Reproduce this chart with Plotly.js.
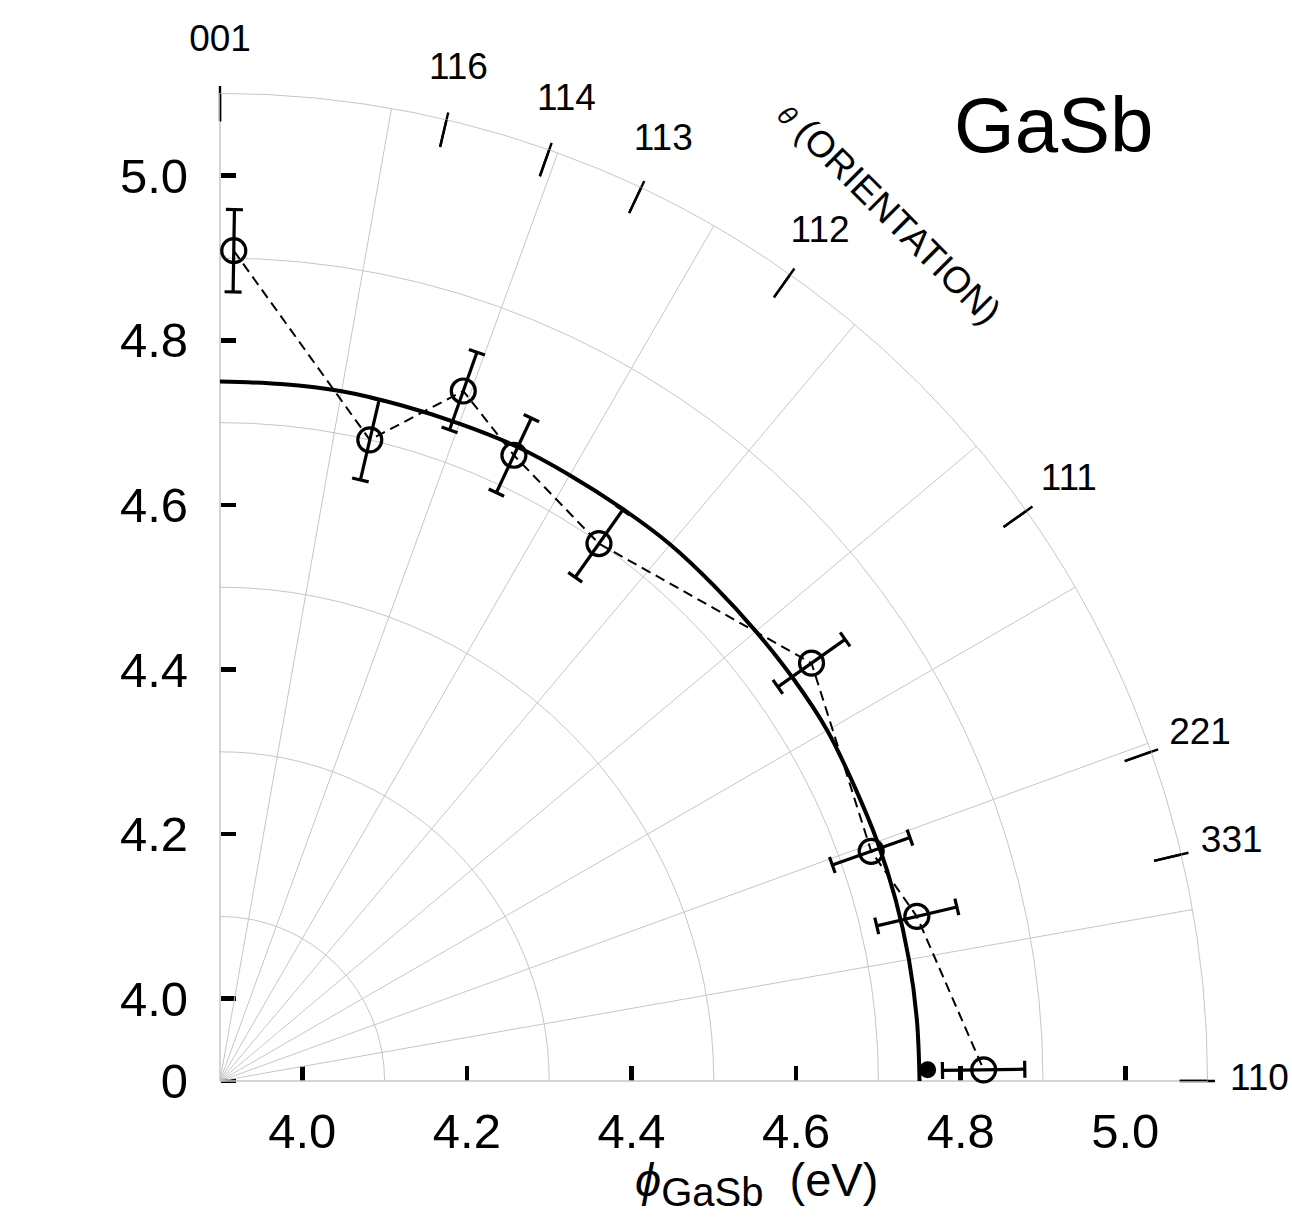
<!DOCTYPE html>
<html>
<head>
<meta charset="utf-8">
<script src="https://cdn.plot.ly/plotly-3.0.1.min.js"></script>
<style>html,body{margin:0;padding:0;background:#fff;}</style>
</head>
<body>
<div id="chart" style="width:1292px;height:1226px;"></div>
<script>
// ---------------- data ----------------
const orientLabels = ['001', '116', '114', '113', '112', '111', '221', '331', '110'];
const orientAngles = [0, 13.26, 19.47, 25.24, 35.26, 54.74, 70.53, 76.74, 90];

const measTheta = [0.95, 13.15, 19.42, 25.16, 35.19, 54.76, 70.57, 76.71, 89.16];
const measPhi   = [4.909, 4.700, 4.789, 4.740, 4.699, 4.780, 4.739, 4.770, 4.828];
const measErr   = [0.05, 0.05, 0.05, 0.05, 0.05, 0.05, 0.05, 0.05, 0.05];

const fitTheta = [0, 5, 10, 15, 20, 25, 30, 35, 40, 45, 50, 55, 60, 65, 70, 75, 80, 85, 90];
const fitPhi   = [4.750, 4.750, 4.751, 4.750, 4.750, 4.751, 4.750, 4.750, 4.751, 4.750, 4.750, 4.751, 4.752, 4.750, 4.750, 4.750, 4.750, 4.750, 4.750];

const calcTheta = [89.09];
const calcPhi   = [4.760];

const xTickVals = [4.0, 4.2, 4.4, 4.6, 4.8, 5.0];
const xTickText = ['4.0', '4.2', '4.4', '4.6', '4.8', '5.0'];
const yTickVals = [3.9, 4.0, 4.2, 4.4, 4.6, 4.8, 5.0];
const yTickText = ['0', '4.0', '4.2', '4.4', '4.6', '4.8', '5.0'];
const rGridVals = [4.1, 4.3, 4.5, 4.7, 4.9, 5.1];

// ---------------- geometry / style constants ----------------
const W = 1292, H = 1226;
const ORIGIN_X = 220, ORIGIN_Y = 1081;      // pixel position of the pole
const PAD = 20;                              // cartesian area extends a bit beyond the pole
const ML = ORIGIN_X - PAD, MB = H - ORIGIN_Y - PAD, MR = 0, MT = 0;
const PW = W - ML - MR, PH = H - MT - MB;
const PX_PER_EV = 823;
const R0 = 3.9, R1 = 5.1;
const RADPX = (R1 - R0) * PX_PER_EV;
const TICK_IN = 5.066, TICK_OUT = 5.109, LABEL_R = 5.163;
const CAP_HALF_PX = 8.5;
const FONT = '"Liberation Sans", Arial, Helvetica, sans-serif';
const GRID = '#c6c6c6';
const x0f = PAD / PW, y0f = PAD / PH;
const pyToPaper = py => (H - MB - py) / PH;

function toXY(r, thDeg) {
  const t = thDeg * Math.PI / 180;
  return [R0 + (r - R0) * Math.sin(t), R0 + (r - R0) * Math.cos(t)];
}

// orientation tick marks and labels (cartesian overlay, same px scale)
const tkX = [], tkY = [], tkR = [], tkT = [];
orientAngles.forEach(a => {
  const p1 = toXY(TICK_IN, a), p2 = toXY(TICK_OUT, a);
  tkX.push(p1[0], p2[0], null); tkY.push(p1[1], p2[1], null);
  tkR.push(TICK_IN, TICK_OUT, null); tkT.push(a, a, null);
});
const lbX = [], lbY = [];
orientAngles.forEach(a => { const p = toXY(LABEL_R, a); lbX.push(p[0]); lbY.push(p[1]); });

// radial error bars with caps
const ebR = [], ebT = [];
measPhi.forEach((r, i) => {
  const th = measTheta[i], e = measErr[i];
  ebR.push(r - e, r + e, null); ebT.push(th, th, null);
  [r - e, r + e].forEach(rr => {
    const d = CAP_HALF_PX / ((rr - R0) * PX_PER_EV) * 180 / Math.PI;
    ebR.push(rr, rr, null); ebT.push(th - d, th + d, null);
  });
});

const traces = [
  { type: 'scatter', x: tkX, y: tkY, mode: 'lines', line: { color: '#000', width: 2.4 },
    hoverinfo: 'skip', showlegend: false, cliponaxis: false },
  { type: 'scatter', x: lbX, y: lbY, mode: 'text', text: orientLabels, textposition: 'middle center',
    textfont: { family: FONT, size: 37, color: '#000' }, hoverinfo: 'skip', showlegend: false, cliponaxis: false },
  { type: 'scatterpolar', r: tkR, theta: tkT, mode: 'lines', connectgaps: false,
    line: { color: '#000', width: 2.4 }, hoverinfo: 'skip', showlegend: false },
  { type: 'scatterpolar', r: fitPhi, theta: fitTheta, mode: 'lines',
    line: { color: '#000', width: 4, shape: 'spline' }, hoverinfo: 'skip', showlegend: false },
  { type: 'scatterpolar', r: ebR, theta: ebT, mode: 'lines', connectgaps: false,
    line: { color: '#000', width: 3.2 }, hoverinfo: 'skip', showlegend: false },
  { type: 'scatterpolar', r: measPhi, theta: measTheta, mode: 'lines',
    line: { color: '#000', width: 2, dash: '10px,6px' }, hoverinfo: 'skip', showlegend: false },
  { type: 'scatterpolar', r: measPhi, theta: measTheta, mode: 'markers',
    marker: { symbol: 'circle-open', size: 24, color: '#000', line: { width: 3.2, color: '#000' } },
    showlegend: false },
  { type: 'scatterpolar', r: calcPhi, theta: calcTheta, mode: 'markers',
    marker: { symbol: 'circle', size: 17, color: '#000', line: { width: 0 } }, showlegend: false }
];

const layout = {
  width: W, height: H,
  margin: { l: ML, r: MR, t: MT, b: MB, pad: 0 },
  paper_bgcolor: '#fff', plot_bgcolor: 'rgba(0,0,0,0)',
  font: { family: FONT, color: '#000' },
  showlegend: false,
  xaxis: {
    domain: [0, 1], range: [R0 - PAD / PX_PER_EV, R0 + (PW - PAD) / PX_PER_EV],
    anchor: 'free', position: y0f, tickmode: 'array',
    tickvals: xTickVals, ticktext: xTickText, ticks: 'inside', ticklen: 15, tickwidth: 4.5,
    tickcolor: '#000', showgrid: false, zeroline: false, showline: false,
    tickfont: { family: FONT, size: 49, color: '#000' }, ticklabelstandoff: 17, fixedrange: true
  },
  yaxis: {
    domain: [0, 1], range: [R0 - PAD / PX_PER_EV, R0 + (PH - PAD) / PX_PER_EV],
    anchor: 'free', position: x0f, tickmode: 'array',
    tickvals: yTickVals, ticktext: yTickText, ticks: 'inside', ticklen: 15, tickwidth: 4.5,
    tickcolor: '#000', showgrid: false, zeroline: false, showline: false,
    tickfont: { family: FONT, size: 49, color: '#000' }, ticklabelstandoff: 32, fixedrange: true
  },
  polar: {
    domain: { x: [x0f, x0f + RADPX / PW], y: [y0f, y0f + RADPX / PH] },
    sector: [0, 90], hole: 0, bgcolor: 'rgba(0,0,0,0)',
    radialaxis: {
      range: [R0, R1], tickmode: 'array', tickvals: rGridVals, showticklabels: false, ticks: '',
      showline: false, gridcolor: GRID, gridwidth: 1, layer: 'below traces', angle: 0
    },
    angularaxis: {
      direction: 'clockwise', rotation: 90, tickmode: 'linear', tick0: 0, dtick: 10,
      showticklabels: false, ticks: '', showline: true, linecolor: GRID, linewidth: 1,
      gridcolor: GRID, gridwidth: 1, layer: 'below traces'
    }
  },
  annotations: [
    { xref: 'x', yref: 'y', x: 4.913, y: 5.0616, text: 'GaSb', showarrow: false,
      xanchor: 'center', yanchor: 'middle', font: { family: FONT, size: 78, color: '#000' } },
    { xref: 'x', yref: 'y', x: 4.7129, y: 4.9553, textangle: 45, showarrow: false,
      text: '<span style="font-size:27px"><i>θ</i></span> (ORIENTATION)',
      xanchor: 'center', yanchor: 'middle', font: { family: FONT, size: 37, color: '#000' } },
    { xref: 'paper', yref: 'paper', x: (756 - ML) / PW, y: pyToPaper(1183), showarrow: false,
      text: '<i>ϕ</i><sub><span style="font-size:40px">GaSb</span></sub>  (eV)',
      xanchor: 'center', yanchor: 'middle', font: { family: FONT, size: 47, color: '#000' } }
  ]
};

Plotly.newPlot('chart', traces, layout, { displayModeBar: false, staticPlot: true });
</script>
</body>
</html>
